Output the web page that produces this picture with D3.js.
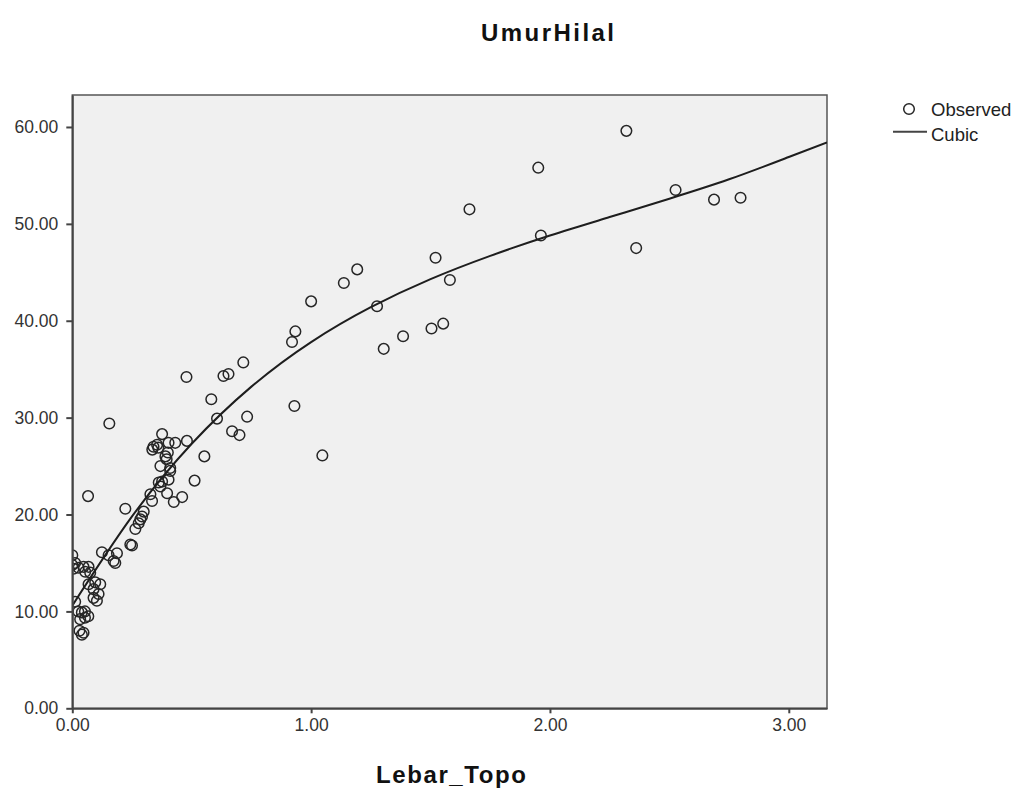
<!DOCTYPE html>
<html>
<head>
<meta charset="utf-8">
<script src="https://cdn.jsdelivr.net/npm/d3@7"></script>
<style>
  body { margin: 0; background: #fff; }
  text { font-family: Arial, "Liberation Sans", sans-serif; }
</style>
</head>
<body>
<div id="chart"></div>
<script>
// observed points (Lebar_Topo, UmurHilal)
const obsX = [2.320,1.951,2.526,2.687,2.798,1.663,1.962,2.361,1.521,1.193,1.137,1.581,1.000,1.276,0.934,0.920,1.304,1.385,1.504,1.553,
  0.716,0.478,0.654,0.633,0.930,0.582,0.606,0.732,0.155,0.669,0.700,1.047,0.553,0.512,0.460,0.425,0.066,
  0.376,0.340,0.335,0.355,0.360,0.403,0.431,0.480,0.390,0.400,0.395,0.369,0.410,0.376,0.403,0.369,0.410,0.362,0.397,0.327,0.334,0.222,0.299,0.292,0.285,0.278,0.264,
  0.243,0.250,0.124,0.152,0.187,0.173,0.180,0.000,0.000,0.012,0.005,0.026,0.047,0.068,0.054,0.075,0.068,0.096,0.117,0.089,0.089,0.103,0.110,0.012,0.025,0.053,0.033,0.053,0.067,0.040,0.030,0.047,0.040];
const obsY = [59.6,55.8,53.5,52.5,52.7,51.5,48.8,47.5,46.5,45.3,43.9,44.2,42.0,41.5,38.9,37.8,37.1,38.4,39.2,39.7,
  35.7,34.2,34.5,34.3,31.2,31.9,29.9,30.1,29.4,28.6,28.2,26.1,26.0,23.5,21.8,21.3,21.9,
  28.3,27.0,26.7,27.2,26.9,27.4,27.4,27.6,26.0,26.4,25.7,25.0,24.8,23.4,23.6,22.9,24.5,23.3,22.2,22.1,21.4,20.6,20.3,19.8,19.5,19.1,18.5,
  16.9,16.8,16.1,15.8,16.0,15.2,15.0,15.8,14.8,15.0,14.4,14.5,14.6,14.6,14.1,14.0,12.8,13.0,12.8,12.3,11.4,11.1,11.8,11.0,10.0,10.0,9.2,9.35,9.5,9.9,8.0,7.8,7.6];

// cubic fit line
const fitX = [0,0.25,0.5,0.75,1.0,1.25,1.5,1.75,2.0,2.25,2.5,2.75,3.0,3.16];
const fitY = [10.6,19.8,27.3,33.2,37.8,41.4,44.3,46.7,48.8,50.7,52.6,54.6,56.9,58.4];

const xTicks = [0,1,2,3];
const yTicks = [0,10,20,30,40,50,60];

const W = 1019, H = 791;
const pLeft = 72.3, pRight = 827, pTop = 95, pBottom = 708.3;

const svg = d3.select("#chart").append("svg")
  .attr("width", W)
  .attr("height", H)

const x = d3.scaleLinear().domain([0,3.16]).range([pLeft,pRight]);
const y = d3.scaleLinear().domain([0,63.3]).range([pBottom,pTop]);

svg.append("defs").append("clipPath").attr("id","clip")
  .append("rect").attr("x",pLeft).attr("y",pTop).attr("width",pRight-pLeft).attr("height",pBottom-pTop);

// plot background + frame
svg.append("rect")
  .attr("x",pLeft).attr("y",pTop).attr("width",pRight-pLeft).attr("height",pBottom-pTop)
  .attr("fill","#f0f0f0").attr("stroke","#555").attr("stroke-width",1.5);

const plot = svg.append("g").attr("clip-path","url(#clip)");

plot.selectAll("circle")
  .data(obsX.map((d,i)=>[d,obsY[i]]))
  .join("circle")
  .attr("cx", d=>x(d[0]))
  .attr("cy", d=>y(d[1]))
  .attr("r", 5.3)
  .attr("fill","none")
  .attr("stroke","#262626")
  .attr("stroke-width",1.5)

const line = d3.line().x(d=>x(d[0])).y(d=>y(d[1])).curve(d3.curveNatural);
plot.append("path")
  .datum(fitX.map((d,i)=>[d,fitY[i]]))
  .attr("fill","none")
  .attr("stroke","#1e1e1e")
  .attr("stroke-width",2)
  .attr("d", line);

// axes
const yAxis = svg.append("g")
  .attr("transform","translate(" + pLeft + ",0)")
  .call(d3.axisLeft(y).tickValues(yTicks).tickFormat(d3.format(".2f")).tickSize(6).tickSizeOuter(0));
const xAxis = svg.append("g")
  .attr("transform","translate(0," + pBottom + ")")
  .call(d3.axisBottom(x).tickValues(xTicks).tickFormat(d3.format(".2f")).tickSize(5).tickSizeOuter(0));

[yAxis,xAxis].forEach(a=>{
  a.select(".domain").attr("stroke","#444").attr("stroke-width",2);
  a.selectAll(".tick line").attr("stroke","#444").attr("stroke-width",2);
  a.selectAll(".tick text").attr("fill","#333").style("font-size","17.5px")
    .style("font-family","Arial, 'Liberation Sans', sans-serif");
});
yAxis.selectAll(".tick text").attr("x",-14);
xAxis.selectAll(".tick text").attr("y",10);

// title and axis label
svg.append("text")
  .attr("x",547.5).attr("y",41)
  .attr("text-anchor","middle")
  .attr("textLength",133).attr("lengthAdjust","spacing")
  .style("font-size","24px").style("font-weight","bold")
  .attr("fill","#111")
  .text("UmurHilal");

svg.append("text")
  .attr("x",451).attr("y",783)
  .attr("text-anchor","middle")
  .attr("textLength",150).attr("lengthAdjust","spacing")
  .style("font-size","24px").style("font-weight","bold")
  .attr("fill","#111")
  .text("Lebar_Topo");

// legend
const lg = svg.append("g");
lg.append("circle").attr("cx",909).attr("cy",109).attr("r",5.3)
  .attr("fill","none").attr("stroke","#262626").attr("stroke-width",1.5);
lg.append("text").attr("x",931).attr("y",116).style("font-size","18.5px").attr("fill","#222").text("Observed");
lg.append("line").attr("x1",893).attr("x2",927).attr("y1",131.7).attr("y2",131.7)
  .attr("stroke","#444").attr("stroke-width",2);
lg.append("text").attr("x",931).attr("y",141).style("font-size","18.5px").attr("fill","#222").text("Cubic");
</script>
</body>
</html>
